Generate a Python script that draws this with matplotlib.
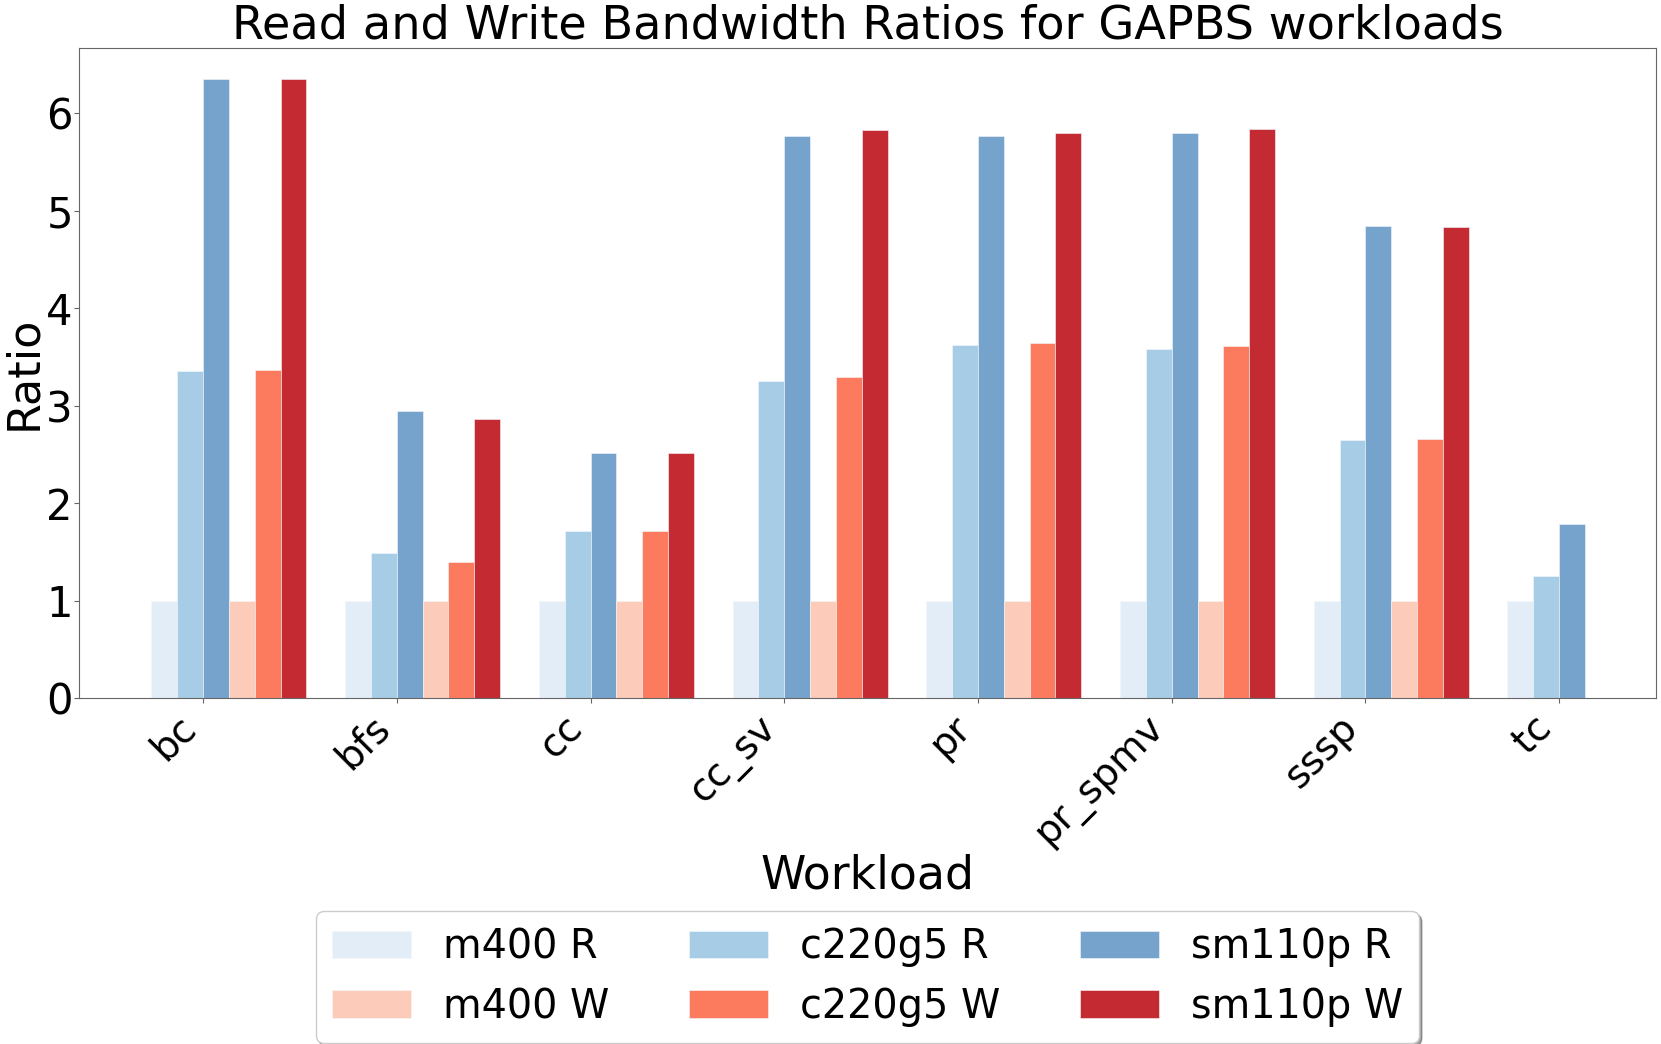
import numpy as np
import matplotlib
matplotlib.use('Agg')
import matplotlib.pyplot as plt

workloads = ['bc', 'bfs', 'cc', 'cc_sv', 'pr', 'pr_spmv', 'sssp', 'tc']

# read bandwidth ratios (m400 = 1)
m400_r = [1, 1, 1, 1, 1, 1, 1, 1]
c220g5_r = [3.36, 1.49, 1.72, 3.26, 3.62, 3.58, 2.65, 1.26]
sm110p_r = [6.35, 2.95, 2.52, 5.77, 5.77, 5.80, 4.84, 1.79]

# write bandwidth ratios (no write data for tc)
m400_w = [1, 1, 1, 1, 1, 1, 1, np.nan]
c220g5_w = [3.37, 1.40, 1.72, 3.30, 3.64, 3.61, 2.66, np.nan]
sm110p_w = [6.35, 2.87, 2.52, 5.83, 5.80, 5.84, 4.83, np.nan]

series = [m400_r, c220g5_r, sm110p_r, m400_w, c220g5_w, sm110p_w]
labels = ['m400 R', 'c220g5 R', 'sm110p R', 'm400 W', 'c220g5 W', 'sm110p W']
colors = ['#e3edf7', '#a7cde6', '#75a3cc', '#fdcbb9', '#fc7b5f', '#c42a32']

fig = plt.figure(figsize=(16.61, 10.44), dpi=100)
ax = fig.add_axes([0.0476, 0.331, 0.9494, 0.623])

x = np.arange(len(workloads))
w = 0.8 / 6
bars = []
for i, vals in enumerate(series):
    b = ax.bar(x + (i - 2) * w, vals, width=w, align='edge', color=colors[i],
               edgecolor='#f4f8fb', linewidth=0.4, label=labels[i])
    bars.append(b)

ax.set_xlim(-0.64, 7.5)
ax.set_ylim(0, 6.67)
ax.set_xticks(x)
ax.set_xticklabels(workloads, rotation=45, ha='right', fontsize=28)
ax.tick_params(axis='y', labelsize=30, pad=1)
ax.set_yticks(range(7))
ax.set_title('Read and Write Bandwidth Ratios for GAPBS workloads', fontsize=33.3)
ax.set_xlabel('Workload', fontsize=33, labelpad=1)
ax.set_ylabel('Ratio', fontsize=32)
ax.yaxis.set_label_coords(-0.0215, 0.5)
for s in ax.spines.values():
    s.set_color('#666666')
ax.tick_params(colors='#666666', labelcolor='black')

# legend columns: R on top, W below
order = [0, 3, 1, 4, 2, 5]
ax.legend([bars[k] for k in order], [labels[k] for k in order],
          loc='upper center', bbox_to_anchor=(0.5, -0.297), ncol=3, fontsize=28.6,
          shadow=True)

fig.savefig('out.png', dpi=100)
